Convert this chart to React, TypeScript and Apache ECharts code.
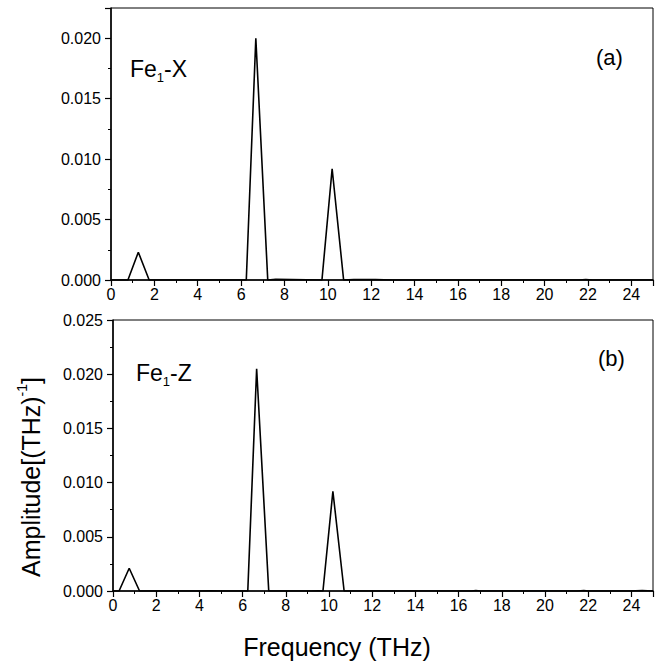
import React, { useEffect, useRef } from "react";
import * as echarts from "echarts";

// Panel (a): Fe1-X spectrum
const freqA = [0, 0.78, 1.26, 1.76, 6.24, 6.68, 7.23, 7.6, 9.73, 10.2, 10.73, 11.2, 12.2, 13.0, 21.6, 21.9, 22.2, 25];
const ampA = [0, 0, 0.0023, 0, 0, 0.02, 0, 0.00005, 0, 0.0092, 0, 0.00003, 0.00003, 0, 0, 0.00004, 0, 0];

// Panel (b): Fe1-Z spectrum
const freqB = [0, 0.28, 0.75, 1.23, 4.0, 4.5, 5.0, 6.24, 6.65, 7.21, 9.2, 9.5, 9.72, 10.18, 10.7, 16.6, 16.8, 17.0, 21.5, 21.8, 22.0, 23.9, 24.5, 25];
const ampB = [0, 0, 0.0021, 0, 0, 0.00003, 0, 0, 0.0205, 0, 0, 0.00003, 0, 0.0092, 0, 0, 0.00004, 0, 0, 0.00004, 0, 0, 0.00004, 0];

const xTicks = [0, 2, 4, 6, 8, 10, 12, 14, 16, 18, 20, 22, 24];
const yTicksA = ["0.000", "0.005", "0.010", "0.015", "0.020"];
const yTicksB = ["0.000", "0.005", "0.010", "0.015", "0.020", "0.025"];

const FONT = "Liberation Sans, Arial, sans-serif";

export default function App() {
  const ref = useRef<HTMLDivElement>(null);
  useEffect(() => {
    if (!ref.current) return;
    const chart = echarts.init(ref.current, null, { renderer: "svg" });
    const xAxisBase = (gridIndex: number) => ({
      type: "value",
      gridIndex,
      min: 0,
      max: 25,
      interval: 2,
      axisLine: { show: true, onZero: false, lineStyle: { color: "#000", width: 1.5 } },
      axisTick: { show: true, inside: false, length: 6, lineStyle: { color: "#000", width: 1.2 } },
      minorTick: { show: true, splitNumber: 2, length: 3, lineStyle: { color: "#000", width: 1 } },
      splitLine: { show: false },
      axisLabel: {
        color: "#000",
        fontFamily: FONT,
        fontSize: 16,
        margin: 6,
        formatter: (v: number) => (xTicks.includes(v) ? String(v) : ""),
      },
    });
    const yAxisBase = (gridIndex: number, max: number, labels: string[]) => ({
      type: "value",
      gridIndex,
      min: 0,
      max,
      interval: 0.005,
      axisLine: { show: true, onZero: false, lineStyle: { color: "#000", width: 1.5 } },
      axisTick: { show: true, inside: false, length: 6, lineStyle: { color: "#000", width: 1.2 } },
      minorTick: { show: true, splitNumber: 2, length: 3, lineStyle: { color: "#000", width: 1 } },
      splitLine: { show: false },
      axisLabel: {
        color: "#000",
        fontFamily: FONT,
        fontSize: 16,
        margin: 10,
        formatter: (v: number) => {
          const s = v.toFixed(3);
          return Math.abs(v / 0.005 - Math.round(v / 0.005)) < 1e-6 && labels.includes(s) ? s : "";
        },
      },
    });
    chart.setOption({
      animation: false,
      backgroundColor: "#fff",
      grid: [
        { left: 111, top: 8, width: 542, height: 272, show: true, borderColor: "#000", borderWidth: 1, backgroundColor: "transparent" },
        { left: 113, top: 320, width: 540, height: 271, show: true, borderColor: "#000", borderWidth: 1, backgroundColor: "transparent" },
      ],
      xAxis: [xAxisBase(0), xAxisBase(1)],
      yAxis: [yAxisBase(0, 0.0225, yTicksA), yAxisBase(1, 0.025, yTicksB)],
      series: [
        {
          type: "line",
          xAxisIndex: 0,
          yAxisIndex: 0,
          data: freqA.map((f, i) => [f, ampA[i]]),
          showSymbol: false,
          lineStyle: { color: "#000", width: 1.6 },
        },
        {
          type: "line",
          xAxisIndex: 1,
          yAxisIndex: 1,
          data: freqB.map((f, i) => [f, ampB[i]]),
          showSymbol: false,
          lineStyle: { color: "#000", width: 1.6 },
        },
      ],
      graphic: [
        {
          type: "text",
          left: 130,
          top: 57,
          style: {
            text: "{n|Fe}{s|1}{n|-X}",
            rich: {
              n: { fontSize: 23, fontFamily: FONT, fill: "#000", lineHeight: 30, verticalAlign: "middle" },
              s: { fontSize: 13, fontFamily: FONT, fill: "#000", lineHeight: 30, verticalAlign: "bottom" },
            },
          },
        },
        {
          type: "text",
          left: 596,
          top: 46,
          style: { text: "(a)", fontSize: 22, fontFamily: FONT, fill: "#000" },
        },
        {
          type: "text",
          left: 136,
          top: 361,
          style: {
            text: "{n|Fe}{s|1}{n|-Z}",
            rich: {
              n: { fontSize: 23, fontFamily: FONT, fill: "#000", lineHeight: 30, verticalAlign: "middle" },
              s: { fontSize: 13, fontFamily: FONT, fill: "#000", lineHeight: 30, verticalAlign: "bottom" },
            },
          },
        },
        {
          type: "text",
          left: 598,
          top: 347,
          style: { text: "(b)", fontSize: 22, fontFamily: FONT, fill: "#000" },
        },
        {
          type: "text",
          x: 31,
          y: 477,
          rotation: Math.PI / 2,
          style: {
            text: "{n|Amplitude[(THz)}{p|-1}{n|]}",
            align: "center",
            verticalAlign: "middle",
            rich: {
              n: { fontSize: 25, fontFamily: FONT, fill: "#000", lineHeight: 32, verticalAlign: "middle" },
              p: { fontSize: 14, fontFamily: FONT, fill: "#000", lineHeight: 32, verticalAlign: "top" },
            },
          },
        },
        {
          type: "text",
          x: 337,
          y: 647,
          style: {
            text: "Frequency (THz)",
            align: "center",
            verticalAlign: "middle",
            fontSize: 25,
            fontFamily: FONT,
            fill: "#000",
          },
        },
      ],
    });
    return () => chart.dispose();
  }, []);
  return <div ref={ref} style={{ width: 657, height: 664, position: "absolute", left: 0, top: 0 }} />;
}
